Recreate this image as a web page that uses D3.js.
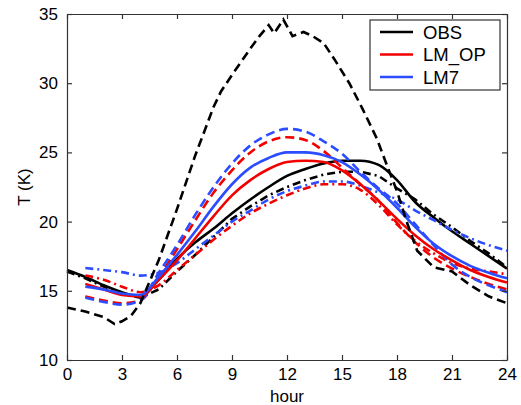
<!DOCTYPE html>
<html>
<head>
<meta charset="utf-8">
<script src="https://cdn.jsdelivr.net/npm/d3@7"></script>
<style>
  body { margin: 0; background: #fff; }
  text { font-family: "Liberation Sans", Arial, sans-serif; }
</style>
</head>
<body>
<div id="chart"></div>
<script>
// -DATA-
const obsHours = d3.range(0, 25);
const modelHours = d3.range(1, 25);

// OBS, dashed curve has its own (finer) hours
const obsDashHours = [0, 1, 2, 2.6, 3, 3.5, 4, 5, 6, 7, 8, 8.4, 9, 10, 10.5, 11, 11.3, 11.8, 12.3, 12.9, 13.4, 14, 14.6, 15.4, 16.1, 16.9, 17.5, 18, 18.5, 19.1, 20, 21, 22, 23, 24];
const obsDash = [13.8, 13.5, 13.1, 12.6, 12.8, 13.2, 14.1, 17.2, 20.9, 24.8, 28.3, 29.4, 30.6, 32.5, 33.4, 34.2, 33.6, 34.6, 33.4, 33.7, 33.4, 32.9, 31.7, 30.0, 28.2, 26.0, 23.9, 22.2, 20.1, 17.9, 16.7, 16.4, 15.4, 14.6, 14.1];
const obsSolid = [16.5, 16.0, 15.4, 14.9, 14.6, 15.8, 17.3, 18.5, 19.5, 20.6, 21.6, 22.5, 23.3, 23.8, 24.2, 24.4, 24.4, 24.1, 23.0, 21.4, 20.3, 19.3, 18.4, 17.5, 16.6];
const obsDashDot = [16.4, 15.9, 15.3, 14.8, 14.5, 15.1, 16.4, 17.6, 18.9, 20.2, 21.1, 21.9, 22.5, 23.0, 23.4, 23.6, 23.6, 23.3, 22.4, 21.6, 20.5, 19.6, 18.6, 17.7, 16.7];

// LM_OP
const opSolid = [15.5, 15.1, 14.7, 14.6, 15.8, 17.2, 18.8, 20.4, 21.9, 23.0, 23.8, 24.3, 24.4, 24.3, 23.7, 22.7, 21.5, 20.2, 19.0, 18.0, 17.2, 16.5, 16.0, 15.6];
const opDash = [14.6, 14.3, 14.1, 14.3, 16.0, 18.0, 20.1, 22.1, 23.7, 25.0, 25.8, 26.1, 25.9, 25.1, 23.9, 22.7, 21.5, 19.9, 18.5, 17.4, 16.6, 16.0, 15.5, 15.1];
const opDashDot = [16.1, 15.8, 15.3, 14.9, 15.4, 16.5, 17.6, 18.7, 19.7, 20.6, 21.3, 21.9, 22.4, 22.7, 22.7, 22.3, 21.2, 19.8, 18.6, 17.7, 17.0, 16.6, 16.4, 16.2];

// LM7
const lm7Solid = [15.3, 15.1, 14.8, 14.7, 16.0, 17.6, 19.3, 21.1, 22.7, 23.9, 24.6, 25.0, 25.0, 24.8, 24.3, 23.4, 22.3, 21.0, 19.6, 18.4, 17.5, 16.8, 16.3, 15.9];
const lm7Dash = [14.5, 14.2, 14.0, 14.3, 16.3, 18.3, 20.5, 22.5, 24.2, 25.5, 26.3, 26.7, 26.5, 25.8, 24.9, 23.6, 22.4, 21.3, 19.8, 18.3, 16.9, 16.0, 15.4, 14.9];
const lm7DashDot = [16.65, 16.5, 16.35, 16.1, 16.3, 17.0, 18.0, 19.0, 20.0, 20.8, 21.6, 22.2, 22.6, 22.9, 22.9, 22.6, 22.1, 21.6, 20.8, 20.1, 19.4, 18.8, 18.3, 17.9];

const xTicks = [0, 3, 6, 9, 12, 15, 18, 21, 24];
const yTicks = [10, 15, 20, 25, 30, 35];
const legendNames = ["OBS", "LM_OP", "LM7"];
const legendColors = ["#000000", "#f20000", "#2b4cff"];

// -LAYOUT-
const W = 521, H = 405;
const padL = 67, padR = 507, padT = 14, padB = 360;
const dashed = "9,5";
const dashDot = "8,4,2,4";

const svg = d3.select("#chart").append("svg")
    .attr("width", W)
    .attr("height", H);

const x = d3.scaleLinear().domain([0, 24]).range([padL, padR]);
const y = d3.scaleLinear().domain([10, 35]).range([padB, padT]);

// series table
const series = [
    { h: obsHours, v: obsDashDot, c: legendColors[0], d: dashDot, curve: d3.curveLinear },
    { h: obsHours, v: obsSolid, c: legendColors[0], d: null, curve: d3.curveMonotoneX },
    { h: modelHours, v: opDashDot, c: legendColors[1], d: dashDot, curve: d3.curveMonotoneX },
    { h: modelHours, v: lm7DashDot, c: legendColors[2], d: dashDot, curve: d3.curveMonotoneX },
    { h: modelHours, v: opDash, c: legendColors[1], d: dashed, curve: d3.curveMonotoneX },
    { h: modelHours, v: lm7Dash, c: legendColors[2], d: dashed, curve: d3.curveMonotoneX },
    { h: modelHours, v: opSolid, c: legendColors[1], d: null, curve: d3.curveMonotoneX },
    { h: modelHours, v: lm7Solid, c: legendColors[2], d: null, curve: d3.curveMonotoneX },
    { h: obsDashHours, v: obsDash, c: legendColors[0], d: dashed, curve: d3.curveLinear }
];

const plot = svg.append("g");
series.forEach(s => {
    const line = d3.line()
        .x((d, i) => x(s.h[i]))
        .y(d => y(d))
        .curve(s.curve);
    plot.append("path")
        .datum(s.v)
        .attr("d", line)
        .attr("fill", "none")
        .attr("stroke", s.c)
        .attr("stroke-width", 2.6)
        .attr("stroke-dasharray", s.d);
});

// -AXES-
const axisColor = "#333";
const xAxis = svg.append("g")
    .attr("transform", "translate(0," + padB + ")")
    .call(d3.axisBottom(x).tickValues(xTicks).tickSizeInner(-5).tickSizeOuter(0).tickPadding(8));
const yAxis = svg.append("g")
    .attr("transform", "translate(" + padL + ",0)")
    .call(d3.axisLeft(y).tickValues(yTicks).tickSizeInner(-5).tickSizeOuter(0).tickPadding(9));
const xTop = svg.append("g")
    .attr("transform", "translate(0," + padT + ")")
    .call(d3.axisTop(x).tickValues(xTicks).tickSizeInner(-5).tickSizeOuter(0).tickFormat(""));
const yRight = svg.append("g")
    .attr("transform", "translate(" + padR + ",0)")
    .call(d3.axisRight(y).tickValues(yTicks).tickSizeInner(-5).tickSizeOuter(0).tickFormat(""));

[xAxis, yAxis, xTop, yRight].forEach(a => {
    a.select(".domain").attr("stroke", axisColor).attr("stroke-width", 1.2);
    a.selectAll(".tick line").attr("stroke", axisColor).attr("stroke-width", 1.2);
    a.selectAll("text")
        .attr("font-size", 17)
        .attr("fill", "#000")
        .style("font-family", "'Liberation Sans', Arial, sans-serif");
});

// axis titles
svg.append("text")
    .attr("x", (padL + padR) / 2)
    .attr("y", 402)
    .attr("text-anchor", "middle")
    .attr("font-size", 17)
    .text("hour");

svg.append("text")
    .attr("transform", "translate(30," + ((padT + padB) / 2) + ") rotate(-90)")
    .attr("text-anchor", "middle")
    .attr("font-size", 17)
    .text("T (K)");

// -LEGEND-
const legend = svg.append("g").attr("id", "legend");
legend.append("rect")
    .attr("x", 370)
    .attr("y", 20)
    .attr("width", 130)
    .attr("height", 70)
    .attr("fill", "#fff")
    .attr("stroke", axisColor)
    .attr("stroke-width", 1.2);

const item = legend.selectAll(".legend-item")
    .data(legendNames)
    .enter()
    .append("g")
    .attr("class", "legend-item")
    .attr("transform", (d, i) => "translate(0," + (32 + i * 22.5) + ")");

item.append("line")
    .attr("x1", 380).attr("x2", 413)
    .attr("y1", 0).attr("y2", 0)
    .attr("stroke", (d, i) => legendColors[i])
    .attr("stroke-width", 2.6);

item.append("text")
    .attr("x", 423)
    .attr("y", 6.5)
    .attr("font-size", 18.5)
    .text(d => d);
</script>
</body>
</html>
